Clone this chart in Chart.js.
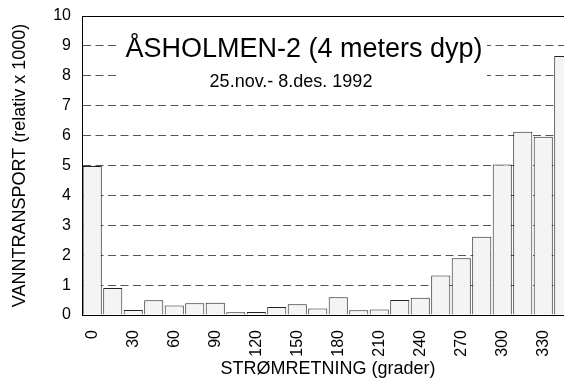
<!DOCTYPE html>
<html>
<head>
<meta charset="utf-8">
<script src="https://cdn.jsdelivr.net/npm/chart.js@4"></script>
<style>
  html, body { margin: 0; padding: 0; overflow: hidden; background: #fff; }
  #wrap { position: relative; width: 574px; height: 378px; }
</style>
</head>
<body>
<div id="wrap"><canvas id="strom"></canvas></div>
<script>
// retning (grader) og vanntransport (relativ x 1000)
const directions = [0, 15, 30, 45, 60, 75, 90, 105, 120, 135, 150, 165,
  180, 195, 210, 225, 240, 255, 270, 285, 300, 315, 330, 345];
const transport = [4.98, 0.90, 0.17, 0.49, 0.32, 0.39, 0.41, 0.09, 0.10, 0.27, 0.36, 0.22,
  0.59, 0.16, 0.18, 0.50, 0.58, 1.32, 1.90, 2.62, 5.03, 6.13, 5.96, 8.66];

const titleText = "ÅSHOLMEN-2 (4 meters dyp)";
const subtitleText = "25.nov.- 8.des. 1992";
const xTitle = "STRØMRETNING (grader)";
const yTitle = "VANNTRANSPORT (relativ x 1000)";

Chart.defaults.font.family = '"Liberation Sans", Arial, sans-serif';
Chart.defaults.color = "#000";

// tittel i hvit boks inne i plottet
const titleBox = {
  id: "titleBox",
  beforeDatasetsDraw(chart) {
    const ctx = chart.ctx;
    ctx.save();
    ctx.fillStyle = "#fff";
    ctx.fillRect(117, 30, 370, 64);
    ctx.fillStyle = "#000";
    ctx.textAlign = "center";
    ctx.textBaseline = "alphabetic";
    ctx.font = '27px "Liberation Sans", Arial';
    ctx.fillText(titleText, 304, 57);
    ctx.font = '18px "Liberation Sans", Arial';
    ctx.fillText(subtitleText, 291, 87);
    ctx.restore();
  }
};

new Chart(document.getElementById("strom"), {
  type: "bar",
  data: {
    labels: directions,
    datasets: [{
      data: transport,
      backgroundColor: "#f4f4f4",
      borderColor: "#222",
      borderWidth: 1,
      barPercentage: 0.93,
      categoryPercentage: 1
    }]
  },
  options: {
    responsive: true,
    maintainAspectRatio: false,
    animation: false,
    layout: { padding: { top: 16, left: 0, right: 0, bottom: 0 } },
    plugins: {
      legend: { display: false },
      tooltip: { enabled: false }
    },
    scales: {
      x: {
        grid: { display: false },
        border: { display: true, color: "#000", width: 1 },
        ticks: {
          autoSkip: false,
          minRotation: 90,
          maxRotation: 90,
          padding: 7,
          font: { size: 16 },
          callback: (v, i) => directions[i] % 30 === 0 ? String(directions[i]) : ""
        },
        title: {
          display: true,
          text: xTitle,
          font: { size: 18, lineHeight: 1.0 },
          padding: 0
        },
        afterFit: s => {
          s.height = 63;
          s.paddingLeft = 0;
          s.paddingRight = 0;
        }
      },
      y: {
        min: 0,
        max: 10,
        ticks: { stepSize: 1, padding: 11, font: { size: 16 } },
        grid: {
          drawTicks: false,
          color: c => c.tick && c.tick.value === 0 ? "rgba(0,0,0,0)" : (c.tick && c.tick.value === 10 ? "#000" : "#555"),
          lineWidth: 1
        },
        border: {
          display: true,
          color: "#000",
          width: 1,
          dash: c => c.tick && c.tick.value === 10 ? [] : [8, 4.5]
        },
        title: {
          display: true,
          text: yTitle,
          font: { size: 18, lineHeight: 1.0 },
          padding: { top: 11, bottom: 0 }
        },
        afterFit: s => {
          s.width = 82;
          s.paddingTop = 0;
          s.paddingBottom = 0;
        }
      }
    }
  },
  plugins: [titleBox]
});
</script>
</body>
</html>
